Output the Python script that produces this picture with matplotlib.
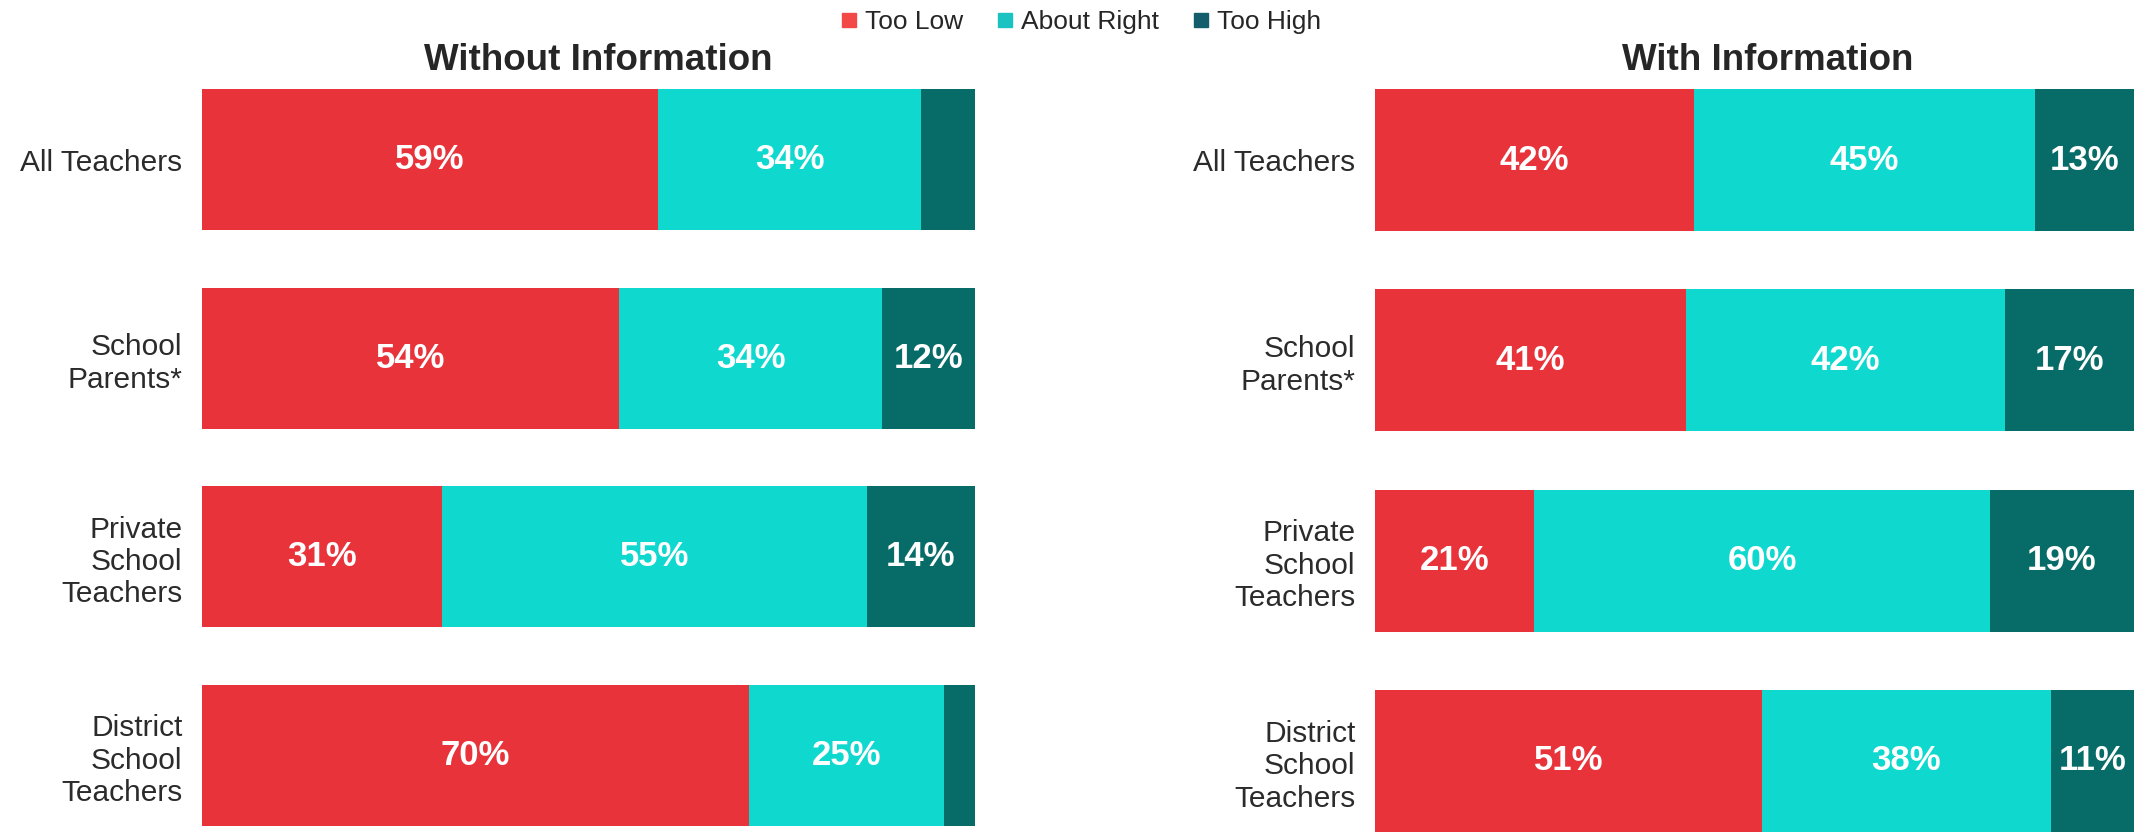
import matplotlib
matplotlib.use("Agg")
import matplotlib.pyplot as plt
from matplotlib.lines import Line2D
import numpy as np

plt.rcParams['font.family'] = ['Liberation Sans', 'DejaVu Sans']

categories = ["All Teachers", "School\nParents*", "Private\nSchool\nTeachers", "District\nSchool\nTeachers"]
series_names = ["Too Low", "About Right", "Too High"]

# Without Information
without_too_low = [59, 54, 31, 70]
without_about_right = [34, 34, 55, 25]
without_too_high = [7, 12, 14, 4]

# With Information
with_too_low = [42, 41, 21, 51]
with_about_right = [45, 42, 60, 38]
with_too_high = [13, 17, 19, 11]

panel_titles = ["Without Information", "With Information"]

bar_colors = ["#E8333A", "#0FD8CF", "#076B67"]
legend_colors = ["#F24848", "#1AC2C2", "#145D6C"]

W, H = 2145, 832
fig = plt.figure(figsize=(W / 100, H / 100), dpi=100)

ax_left = fig.add_axes([202 / W, (H - 826) / H, 773 / W, 737 / H])
ax_right = fig.add_axes([1375 / W, 0.0, 759 / W, 743 / H])

bar_h = 0.71


def draw_panel(ax, series):
    data = np.array(series, dtype=float)
    totals = data.sum(axis=0)
    shares = data / totals * 100.0
    y = np.arange(len(categories))
    left = np.zeros(len(categories))
    for i in range(data.shape[0]):
        bars = ax.barh(y, shares[i], left=left, height=bar_h, color=bar_colors[i],
                       edgecolor="none")
        for j, b in enumerate(bars):
            val = data[i, j]
            if val >= 10:
                ax.text(left[j] + shares[i, j] / 2, y[j], f"{val:.0f}%",
                        ha="center", va="center", color="white",
                        fontsize=25, fontweight="bold")
        left += shares[i]
    ax.set_xlim(0, 100)
    ax.set_ylim(len(categories) - 1 + bar_h / 2, -bar_h / 2)
    ax.set_yticks(y)
    ax.set_yticklabels(categories, fontsize=21.5, color="#2b2b2b", linespacing=1.2)
    ax.tick_params(axis="y", length=0, pad=14)
    ax.set_xticks([])
    for s in ax.spines.values():
        s.set_visible(False)


draw_panel(ax_left, [without_too_low, without_about_right, without_too_high])
draw_panel(ax_right, [with_too_low, with_about_right, with_too_high])

fig.text(598 / W, 1 - 60 / H, panel_titles[0], ha="center", va="center",
         fontsize=26.5, fontweight="bold", color="#262626")
fig.text(1768 / W, 1 - 60 / H, panel_titles[1], ha="center", va="center",
         fontsize=26.5, fontweight="bold", color="#262626")

handles = [Line2D([0], [0], marker="s", linestyle="none", markersize=9.5,
                  markerfacecolor=c, markeredgecolor=c) for c in legend_colors]
fig.legend(handles, series_names, loc="center", bbox_to_anchor=(1080 / W, 1 - 22 / H),
           ncol=3, frameon=False, fontsize=19, handletextpad=0.2,
           columnspacing=1.2, handlelength=0.8, labelcolor="#262626")

fig.savefig("out.png", dpi=100)
